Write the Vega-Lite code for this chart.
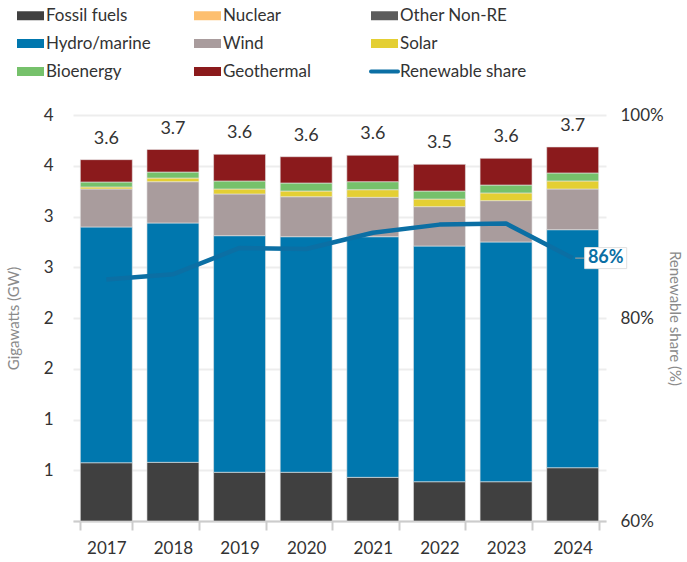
{
  "$schema": "https://vega.github.io/schema/vega-lite/v6.json",
  "width": 533,
  "height": 406,
  "autosize": {"type": "none"},
  "padding": {"left": 73, "top": 115, "right": 81, "bottom": 41},
  "config": {
    "font": "Lato",
    "view": {"stroke": null},
    "axis": {"labelFont": "Lato", "titleFont": "Lato"},
    "legend": {
      "orient": "none", "legendX": -51, "legendY": -108, "direction": "horizontal",
      "columns": 3, "gridAlign": "all", "columnPadding": 13, "rowPadding": 10,
      "padding": 0, "symbolSize": 729, "labelFontSize": 17,
      "labelColor": "#333", "labelOffset": 7, "labelLimit": 300
    }
  },
  "datasets": {
    "gen": [
      {"year": "2017", "source": "Fossil fuels", "value": 0.574},
      {"year": "2017", "source": "Hydro/marine", "value": 2.323},
      {"year": "2017", "source": "Wind", "value": 0.374},
      {"year": "2017", "source": "Solar", "value": 0.02},
      {"year": "2017", "source": "Bioenergy", "value": 0.049},
      {"year": "2017", "source": "Geothermal", "value": 0.22},
      {"year": "2018", "source": "Fossil fuels", "value": 0.578},
      {"year": "2018", "source": "Hydro/marine", "value": 2.358},
      {"year": "2018", "source": "Wind", "value": 0.407},
      {"year": "2018", "source": "Solar", "value": 0.036},
      {"year": "2018", "source": "Bioenergy", "value": 0.059},
      {"year": "2018", "source": "Geothermal", "value": 0.222},
      {"year": "2019", "source": "Fossil fuels", "value": 0.48},
      {"year": "2019", "source": "Hydro/marine", "value": 2.331},
      {"year": "2019", "source": "Wind", "value": 0.411},
      {"year": "2019", "source": "Solar", "value": 0.049},
      {"year": "2019", "source": "Bioenergy", "value": 0.079},
      {"year": "2019", "source": "Geothermal", "value": 0.263},
      {"year": "2020", "source": "Fossil fuels", "value": 0.48},
      {"year": "2020", "source": "Hydro/marine", "value": 2.321},
      {"year": "2020", "source": "Wind", "value": 0.394},
      {"year": "2020", "source": "Solar", "value": 0.056},
      {"year": "2020", "source": "Bioenergy", "value": 0.079},
      {"year": "2020", "source": "Geothermal", "value": 0.259},
      {"year": "2021", "source": "Fossil fuels", "value": 0.43},
      {"year": "2021", "source": "Hydro/marine", "value": 2.371},
      {"year": "2021", "source": "Wind", "value": 0.388},
      {"year": "2021", "source": "Solar", "value": 0.075},
      {"year": "2021", "source": "Bioenergy", "value": 0.079},
      {"year": "2021", "source": "Geothermal", "value": 0.26},
      {"year": "2022", "source": "Fossil fuels", "value": 0.387},
      {"year": "2022", "source": "Hydro/marine", "value": 2.322},
      {"year": "2022", "source": "Wind", "value": 0.388},
      {"year": "2022", "source": "Solar", "value": 0.075},
      {"year": "2022", "source": "Bioenergy", "value": 0.079},
      {"year": "2022", "source": "Geothermal", "value": 0.263},
      {"year": "2023", "source": "Fossil fuels", "value": 0.387},
      {"year": "2023", "source": "Hydro/marine", "value": 2.362},
      {"year": "2023", "source": "Wind", "value": 0.407},
      {"year": "2023", "source": "Solar", "value": 0.076},
      {"year": "2023", "source": "Bioenergy", "value": 0.078},
      {"year": "2023", "source": "Geothermal", "value": 0.263},
      {"year": "2024", "source": "Fossil fuels", "value": 0.525},
      {"year": "2024", "source": "Hydro/marine", "value": 2.345},
      {"year": "2024", "source": "Wind", "value": 0.401},
      {"year": "2024", "source": "Solar", "value": 0.079},
      {"year": "2024", "source": "Bioenergy", "value": 0.079},
      {"year": "2024", "source": "Geothermal", "value": 0.256}
    ],
    "share": [
      {"year": "2017", "share": 0.838},
      {"year": "2018", "share": 0.843},
      {"year": "2019", "share": 0.869},
      {"year": "2020", "share": 0.868},
      {"year": "2021", "share": 0.884},
      {"year": "2022", "share": 0.892},
      {"year": "2023", "share": 0.893},
      {"year": "2024", "share": 0.859}
    ]
  },
  "layer": [
    {
      "data": {"name": "gen"},
      "layer": [
        {
          "transform": [
            {"calculate": "indexof(['Fossil fuels', 'Nuclear', 'Other Non-RE', 'Hydro/marine', 'Wind', 'Solar', 'Bioenergy', 'Geothermal'], datum.source)", "as": "stackOrder"}
          ],
          "mark": {"type": "bar", "stroke": "#e6e6e6", "strokeWidth": 0.6},
          "encoding": {
            "x": {
              "field": "year", "type": "ordinal",
              "scale": {"paddingInner": 0.22, "paddingOuter": 0.11},
              "axis": {
                "title": null, "labelAngle": 0, "labelFontSize": 17, "labelColor": "#333",
                "domainColor": "#cccccc", "domainWidth": 2, "tickColor": "#cccccc", "tickWidth": 2,
                "tickSize": 9, "tickBand": "extent", "labelPadding": 10, "grid": false
              }
            },
            "y": {
              "field": "value", "type": "quantitative", "stack": "zero",
              "scale": {"domain": [0, 4], "nice": false},
              "axis": {
                "values": [0, 0.5, 1, 1.5, 2, 2.5, 3, 3.5, 4],
                "labelExpr": "datum.value == 0 ? '' : format(datum.value, '.0f')",
                "grid": true, "gridColor": "#ededed", "gridWidth": 2,
                "domain": false, "ticks": false,
                "labelFontSize": 17, "labelColor": "#333", "labelPadding": 20,
                "title": "Gigawatts (GW)", "titleFontSize": 15, "titleColor": "#8a8a8a",
                "titleFontWeight": "normal", "titlePadding": 22
              }
            },
            "order": {"field": "stackOrder", "type": "quantitative", "sort": "ascending"},
            "color": {
              "field": "source", "type": "nominal",
              "scale": {
                "domain": ["Fossil fuels", "Nuclear", "Other Non-RE", "Hydro/marine", "Wind", "Solar", "Bioenergy", "Geothermal", "Renewable share"],
                "range": ["#404040", "#FDBF6F", "#5c5c5c", "#0077AE", "#A99C9D", "#E4CF33", "#76C16B", "#8B1A1C", "#0B6FA4"]
              },
              "legend": {
                "title": null,
                "encode": {
                  "symbols": {
                    "update": {
                      "shape": {"signal": "datum.value === 'Renewable share' ? 'M-1,0H1' : 'M-1,-0.333H1V0.333H-1Z'"},
                      "size": {"value": 729},
                      "fill": {"signal": "datum.value === 'Renewable share' ? 'transparent' : scale('color', datum.value)"},
                      "stroke": {"signal": "datum.value === 'Renewable share' ? scale('color', datum.value) : 'transparent'"},
                      "strokeWidth": {"signal": "datum.value === 'Renewable share' ? 4 : 0"},
                      "strokeCap": {"value": "round"},
                      "opacity": {"value": 1},
                      "fillOpacity": {"value": 1}
                    }
                  }
                }
              }
            }
          }
        },
        {
          "mark": {"type": "text", "dy": -16, "baseline": "alphabetic", "fontSize": 18, "color": "#333"},
          "encoding": {
            "x": {"field": "year", "type": "ordinal"},
            "y": {"aggregate": "sum", "field": "value", "type": "quantitative"},
            "text": {"aggregate": "sum", "field": "value", "type": "quantitative", "format": ".1f"}
          }
        }
      ]
    },
    {
      "data": {"name": "share"},
      "layer": [
        {
          "mark": {"type": "line", "strokeWidth": 4.5, "strokeJoin": "round"},
          "encoding": {
            "x": {"field": "year", "type": "ordinal"},
            "y": {
              "field": "share", "type": "quantitative",
              "scale": {"domain": [0.6, 1], "nice": false, "zero": false},
              "axis": {
                "orient": "right", "values": [0.6, 0.8, 1], "format": ".0%",
                "grid": false, "ticks": false, "domain": false,
                "labelFontSize": 17, "labelColor": "#333", "labelPadding": 14,
                "title": "Renewable share (%)", "titleFontSize": 15, "titleColor": "#8a8a8a",
                "titleFontWeight": "normal", "titlePadding": 3
              }
            },
            "color": {
              "datum": "Renewable share", "type": "nominal",
              "legend": {
                "title": null,
                "encode": {
                  "symbols": {
                    "update": {
                      "shape": {"signal": "datum.value === 'Renewable share' ? 'M-1,0H1' : 'M-1,-0.333H1V0.333H-1Z'"},
                      "size": {"value": 729},
                      "fill": {"signal": "datum.value === 'Renewable share' ? 'transparent' : scale('color', datum.value)"},
                      "stroke": {"signal": "datum.value === 'Renewable share' ? scale('color', datum.value) : 'transparent'"},
                      "strokeWidth": {"signal": "datum.value === 'Renewable share' ? 4 : 0"},
                      "strokeCap": {"value": "round"},
                      "opacity": {"value": 1},
                      "fillOpacity": {"value": 1}
                    }
                  }
                }
              }
            }
          }
        },
        {
          "transform": [{"filter": "datum.year == '2024'"}],
          "layer": [
            {
              "mark": {"type": "point", "shape": "M-1,0H1", "size": 121, "xOffset": 8, "stroke": "#9a9a9a", "strokeWidth": 1.2, "filled": false, "opacity": 1},
              "encoding": {
                "x": {"field": "year", "type": "ordinal"},
                "y": {"field": "share", "type": "quantitative"}
              }
            },
            {
              "mark": {"type": "point", "shape": "M-1,-0.5H1V0.5H-1Z", "size": 1764, "xOffset": 33, "fill": "white", "stroke": "#e0e0e0", "strokeWidth": 1, "filled": true, "opacity": 1},
              "encoding": {
                "x": {"field": "year", "type": "ordinal"},
                "y": {"field": "share", "type": "quantitative"}
              }
            },
            {
              "mark": {"type": "text", "align": "center", "dx": 33, "fontSize": 18, "fontWeight": "bold", "color": "#0B6FA4"},
              "encoding": {
                "x": {"field": "year", "type": "ordinal"},
                "y": {"field": "share", "type": "quantitative"},
                "text": {"field": "share", "type": "quantitative", "format": ".0%"}
              }
            }
          ]
        }
      ]
    }
  ],
  "resolve": {"scale": {"y": "independent"}}
}
